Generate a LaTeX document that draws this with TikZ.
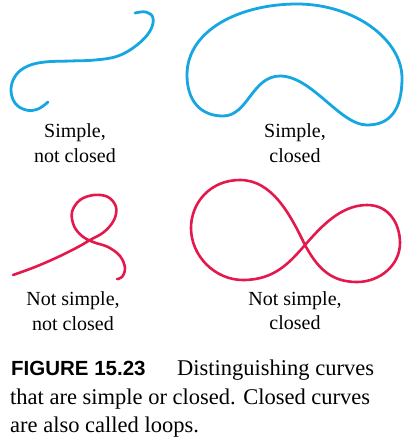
\documentclass[tikz,border=0pt]{standalone}
\usepackage{fontspec}
\setmainfont{Liberation Serif}
\newfontfamily\capsans{Liberation Sans}
\definecolor{curveblue}{RGB}{22,166,226}
\definecolor{curvered}{RGB}{228,24,76}
\begin{document}
\begin{tikzpicture}[x=1pt,y=-1pt,
  bluecurve/.style={draw=curveblue,line width=2.8pt,line cap=round,line join=round},
  redcurve/.style={draw=curvered,line width=2.6pt,line cap=round,line join=round},
  lbl/.style={anchor=base,inner sep=0pt,font=\fontsize{20}{24}\selectfont},
  captxt/.style={anchor=base west,inner sep=0pt,font=\fontsize{22.5}{27}\selectfont}]
\useasboundingbox (0,0) rectangle (408,448);
% simple, not closed
\draw[bluecurve] plot[smooth,tension=0.65] coordinates {(48,102) (38,109) (26,110) (15,103) (11,89) (16,75) (28,66) (45,62) (70,61) (95,60) (118,56) (137,45) (150,31) (153,18) (146,12) (135,13)};
% simple, closed
\draw[bluecurve] (187,75) .. controls (187,30) and (240,4) .. (297,4)
  .. controls (355,4) and (402,40) .. (402,78)
  .. controls (402,110) and (390,125) .. (367,125)
  .. controls (340,125) and (312,76) .. (280,76)
  .. controls (252,76) and (248,116) .. (223,116)
  .. controls (200,116) and (187,100) .. (187,75) -- cycle;
% not simple, not closed
\draw[redcurve] plot[smooth,tension=0.6] coordinates {(13,275) (35,267) (58,257) (78,247) (90,240) (104,232) (114,220) (116,207) (108,197) (94,195) (80,200) (72,212) (74,226) (82,236) (93,242) (108,247) (120,256) (125,268) (122,277) (117,279)};
% not simple, closed
\draw[redcurve] (305,245) .. controls (290,214) and (272,180) .. (240,180)
  .. controls (210,180) and (191,203) .. (191,228)
  .. controls (191,256) and (215,280) .. (243,280)
  .. controls (275,280) and (290,262) .. (305,245)
  .. controls (320,228) and (340,205) .. (367,205)
  .. controls (390,205) and (400,225) .. (400,243)
  .. controls (400,265) and (380,282) .. (357,282)
  .. controls (330,282) and (317,267) .. (305,245) -- cycle;
% labels
\node[lbl] (l1a) at (75,137) {Simple,};
\node[lbl] (l1b) at (75,162) {not closed};
\node[lbl] (l2a) at (295,137) {Simple,};
\node[lbl] (l2b) at (295,162) {closed};
\node[lbl] (l3a) at (73,305) {Not simple,};
\node[lbl] (l3b) at (73,330) {not closed};
\node[lbl] (l4a) at (295,305) {Not simple,};
\node[lbl] (l4b) at (295,329) {closed};
% caption
\node[captxt] (c0) at (11,375) {\capsans\bfseries\fontsize{20.5}{24}\selectfont FIGURE 15.23};
\node[captxt] (c1) at (177,375) {Distinguishing curves};
\node[captxt] (c2) at (10,404) {that are simple or closed. Closed curves};
\node[captxt] (c3) at (10,432) {are also called loops.};
\end{tikzpicture}
\end{document}
